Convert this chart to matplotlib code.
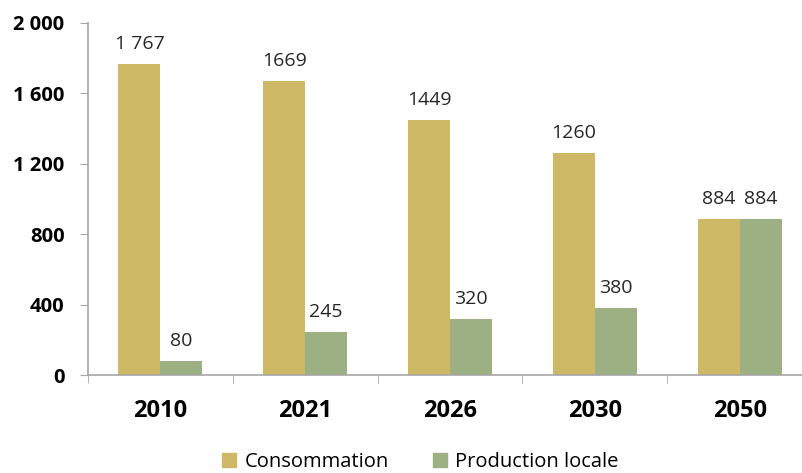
import numpy as np
import matplotlib
matplotlib.use('Agg')
import matplotlib.pyplot as plt
from matplotlib.patches import Patch

years = ['2010', '2021', '2026', '2030', '2050']
consommation = [1767, 1669, 1449, 1260, 884]
production = [80, 245, 320, 380, 884]
conso_labels = ['1 767', '1669', '1449', '1260', '884']
prod_labels = ['80', '245', '320', '380', '884']
yticks = [0, 400, 800, 1200, 1600, 2000]
ytick_labels = ['0', '400', '800', '1 200', '1 600', '2 000']

c_conso = '#CDB866'
c_prod = '#9CB084'
grey = '#A6A6A6'

plt.rcParams['font.family'] = ['Open Sans', 'DejaVu Sans']

W, H = 802, 473
fig = plt.figure(figsize=(W / 100, H / 100), dpi=100)
# axes runs a bit past the right edge of the figure
left, right, top, bottom = 88, 812, 23, 375
ax = fig.add_axes([left / W, 1 - bottom / H, (right - left) / W, (bottom - top) / H])

x = np.arange(len(years))
w = 0.29
ax.bar(x - w / 2, consommation, w, color=c_conso)
ax.bar(x + w / 2, production, w, color=c_prod)

for xi, v, s in zip(x, consommation, conso_labels):
    ax.annotate(s, (xi - w / 2, v), xytext=(0, 8), textcoords='offset points',
                ha='center', va='bottom', fontsize=14, color='#262626')
for xi, v, s in zip(x, production, prod_labels):
    ax.annotate(s, (xi + w / 2, v), xytext=(0, 8), textcoords='offset points',
                ha='center', va='bottom', fontsize=14, color='#262626')

ax.set_xlim(-0.5, len(years) - 0.5)
ax.set_ylim(0, 2000)
ax.set_yticks(yticks)
ax.set_yticklabels(ytick_labels, fontsize=14.5, fontweight='bold')
ax.set_xticks(x)
ax.set_xticklabels(years, fontsize=17, fontweight='bold')
ax.set_xticks(np.arange(len(years) + 1) - 0.5, minor=True)
ax.tick_params(axis='x', which='major', length=0, pad=17)
ax.tick_params(axis='x', which='minor', length=6, color=grey, direction='out')
ax.tick_params(axis='y', length=6, color=grey, pad=11)

for side in ['top', 'right']:
    ax.spines[side].set_visible(False)
for side in ['left', 'bottom']:
    ax.spines[side].set_color(grey)
    ax.spines[side].set_linewidth(1.2)

handles = [Patch(color=c_conso, label='Consommation'),
           Patch(color=c_prod, label='Production locale')]
fig.legend(handles=handles, loc='lower center', bbox_to_anchor=(0.524, -0.036),
           ncol=2, frameon=False, fontsize=14.5, handlelength=0.7, handleheight=0.7,
           handletextpad=0.4, columnspacing=2.2)

fig.savefig('out.png', dpi=100)
